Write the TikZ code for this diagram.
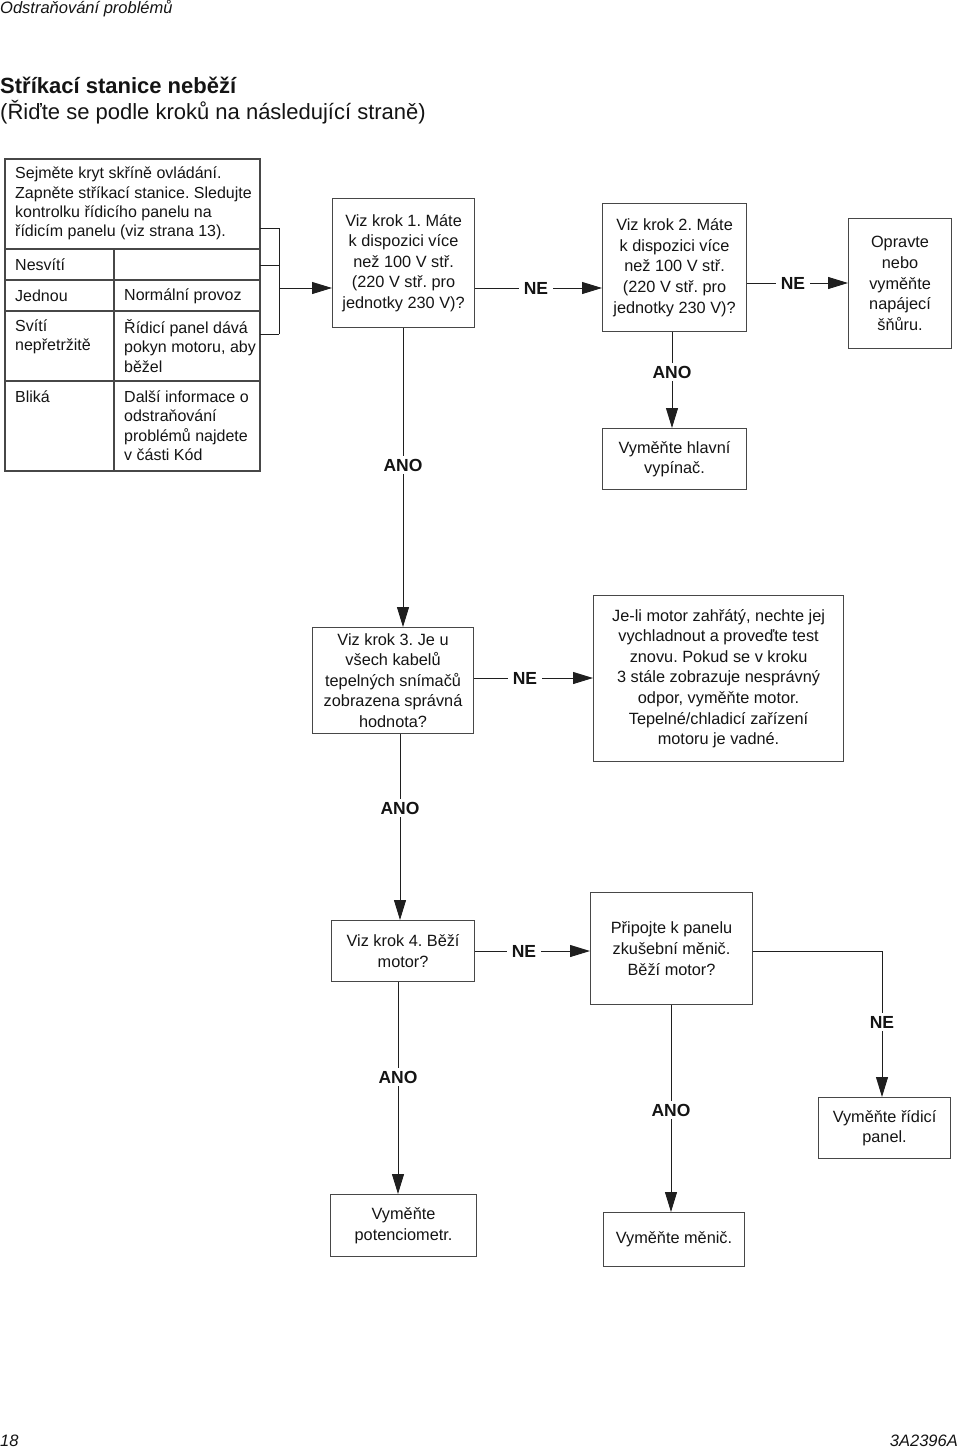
\documentclass[tikz,border=0pt]{standalone}
\usepackage{fontspec}
\setmainfont{Liberation Sans}
\usetikzlibrary{arrows.meta}
\frenchspacing
\begin{document}
\begin{tikzpicture}[x=1pt,y=-1pt,
  box/.style={draw=black!72, line width=1.1pt, align=center, inner sep=0pt, anchor=north west,
    font=\fontsize{16.3}{20.6}\selectfont, text=black!92},
  sz/.style 2 args={minimum width=#1pt, minimum height=#2pt},
  lab/.style={font=\fontsize{17.5}{20}\selectfont\bfseries, inner xsep=5pt, inner ysep=3pt, text=black!92},
  conn/.style={line width=1pt, draw=black!88},
  arr/.style={conn, -{Triangle[length=20pt,width=12pt]}},
  cell/.style={anchor=west, align=left, inner sep=0pt, font=\fontsize{16}{19.4}\selectfont, text=black!92},
  tline/.style={draw=black!72, line width=1.1pt},
  plain/.style={inner sep=0pt, text=black!92}
]
\useasboundingbox (0,0) rectangle (960,1449);

% header / footer
\node[plain, anchor=base west, font=\fontsize{16.5}{20}\selectfont\itshape] (hdr) at (0,13) {Odstraňování problémů};
\node[plain, anchor=base west, font=\fontsize{22}{26}\selectfont\bfseries] (title) at (0,93) {Stříkací stanice neběží};
\node[plain, anchor=base west, font=\fontsize{22}{26}\selectfont] (sub) at (0,119) {(Řiďte se podle kroků na následující straně)};
\node[plain, anchor=base west, font=\fontsize{16.5}{20}\selectfont\itshape] (pg) at (0,1446) {18};
\node[plain, anchor=base east, font=\fontsize{16.5}{20}\selectfont\itshape] (doc) at (958,1446) {3A2396A};

% table
\draw[tline] (5,159) rectangle (260,471);
\draw[tline] (5,249) -- (260,249);
\draw[tline] (5,280) -- (260,280);
\draw[tline] (5,311) -- (260,311);
\draw[tline] (5,381) -- (260,381);
\draw[tline] (114,249) -- (114,471);
\node[cell] (c0) at (15,203.5) {Sejměte kryt skříně ovládání.\\Zapněte stříkací stanice. Sledujte\\kontrolku řídicího panelu na\\řídicím panelu (viz strana 13).};
\node[cell] (c1) at (15,265) {Nesvítí};
\node[cell] (c2) at (15,296) {Jednou};
\node[cell] (c2r) at (124,296) {Normální provoz};
\node[cell] (c3) at (15,336.5) {Svítí\\nepřetržitě};
\node[cell] (c3r) at (124,346) {Řídicí panel dává\\pokyn motoru, aby\\běžel};
\node[cell] (c4) at (15,397) {Bliká};
\node[cell] (c4r) at (124,425.5) {Další informace o\\odstraňování\\problémů najdete\\v části Kód};

% bracket
\draw[conn] (260,228) -- (279,228);
\draw[conn] (260,265) -- (279,265);
\draw[conn] (260,334) -- (279,334);
\draw[conn] (279,228) -- (279,334);
\coordinate (br) at (279,288);

% boxes
\node[box, sz={142}{129}] (b1) at (332,198) {Viz krok 1. Máte\\k dispozici více\\než 100 V stř.\\(220 V stř. pro\\jednotky 230 V)?};
\node[box, sz={144}{128}] (b2) at (602,203) {Viz krok 2. Máte\\k dispozici více\\než 100 V stř.\\(220 V stř. pro\\jednotky 230 V)?};
\node[box, sz={103}{130}] (b3) at (848,218) {Opravte\\nebo\\vyměňte\\napájecí\\šňůru.};
\node[box, sz={144}{61}] (b4) at (602,428) {Vyměňte hlavní\\vypínač.};
\node[box, sz={161}{106}] (b5) at (312,627) {Viz krok 3. Je u\\všech kabelů\\tepelných snímačů\\zobrazena správná\\hodnota?};
\node[box, sz={250}{166}] (b6) at (593,595) {Je-li motor zahřátý, nechte jej\\vychladnout a proveďte test\\znovu. Pokud se v kroku\\3 stále zobrazuje nesprávný\\odpor, vyměňte motor.\\Tepelné/chladicí zařízení\\motoru je vadné.};
\node[box, sz={143}{61}] (b7) at (331,920) {Viz krok 4. Běží\\motor?};
\node[box, sz={162}{112}] (b8) at (590,892) {Připojte k panelu\\zkušební měnič.\\Běží motor?};
\node[box, sz={132}{61}] (b9) at (818,1097) {Vyměňte řídicí\\panel.};
\node[box, sz={146}{62}] (b10) at (330,1194) {Vyměňte\\potenciometr.};
\node[box, sz={141}{54}] (b11) at (603,1212) {Vyměňte měnič.};

% labels
\node[lab] (ne1) at (536,288) {NE};
\node[lab] (ne2) at (793,283) {NE};
\node[lab] (ano1) at (403,465) {ANO};
\node[lab] (ano2) at (672,372) {ANO};
\node[lab] (ne3) at (525,678) {NE};
\node[lab] (ano3) at (400,808) {ANO};
\node[lab] (ne4) at (524,951) {NE};
\node[lab] (ne5) at (882,1022) {NE};
\node[lab] (ano4) at (671,1110) {ANO};
\node[lab] (ano5) at (398,1077) {ANO};

% connectors
\draw[arr] (br) -- (b1.west |- br);
\draw[conn] (b1.east |- ne1) -- (ne1.west);
\draw[arr] (ne1.east) -- (b2.west |- ne1);
\draw[conn] (b2.east |- ne2) -- (ne2.west);
\draw[arr] (ne2.east) -- (b3.west |- ne2);
\draw[conn] (b1.south -| ano1) -- (ano1.north);
\draw[arr] (ano1.south) -- (b5.north -| ano1);
\draw[conn] (b2.south -| ano2) -- (ano2.north);
\draw[arr] (ano2.south) -- (b4.north -| ano2);
\draw[conn] (b5.east |- ne3) -- (ne3.west);
\draw[arr] (ne3.east) -- (b6.west |- ne3);
\draw[conn] (b5.south -| ano3) -- (ano3.north);
\draw[arr] (ano3.south) -- (b7.north -| ano3);
\draw[conn] (b7.east |- ne4) -- (ne4.west);
\draw[arr] (ne4.east) -- (b8.west |- ne4);
\draw[conn] (b8.east |- ne4) -| (ne5.north);
\draw[arr] (ne5.south) -- (b9.north -| ne5);
\draw[conn] (b8.south -| ano4) -- (ano4.north);
\draw[arr] (ano4.south) -- (b11.north -| ano4);
\draw[conn] (b7.south -| ano5) -- (ano5.north);
\draw[arr] (ano5.south) -- (b10.north -| ano5);
\end{tikzpicture}
\end{document}
